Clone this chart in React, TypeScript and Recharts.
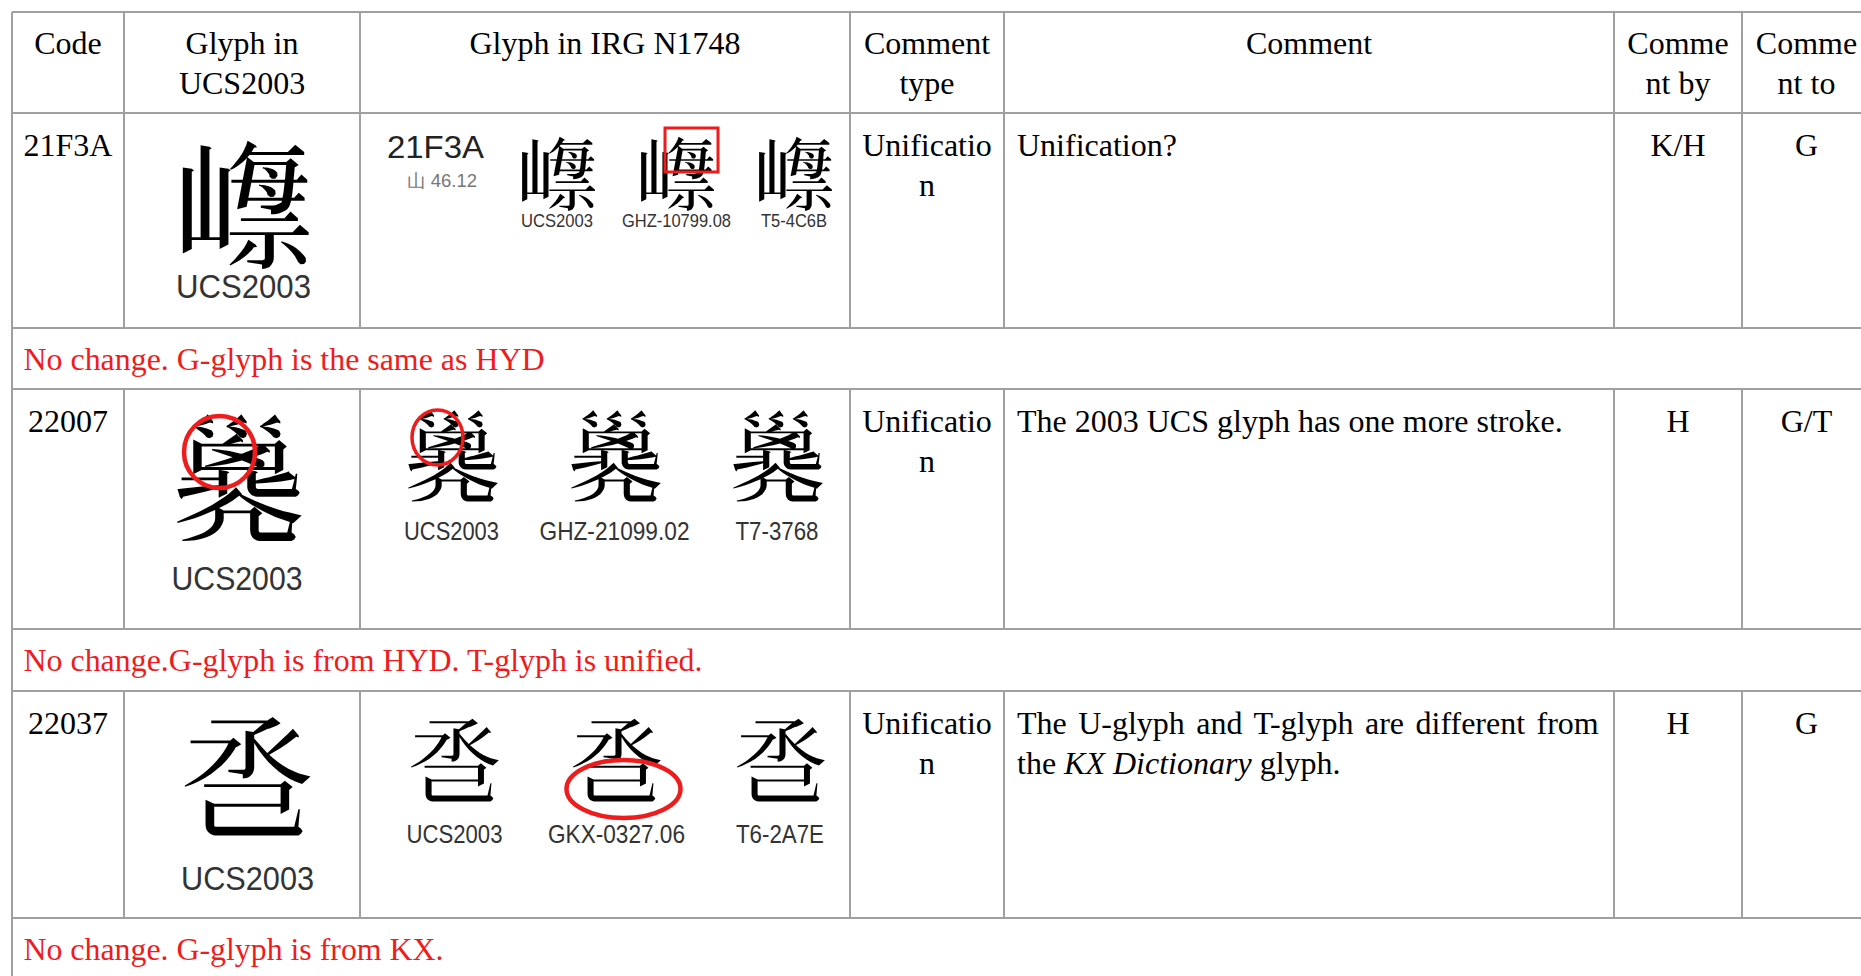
import React from 'react';
import { ScatterChart, Scatter, XAxis, YAxis, ReferenceLine } from 'recharts';

// ---------- values (text content of the table) ----------
const headers: string[][] = [
  ['Code'],
  ['Glyph in', 'UCS2003'],
  ['Glyph in IRG N1748'],
  ['Comment', 'type'],
  ['Comment'],
  ['Comme', 'nt by'],
  ['Comme', 'nt to'],
];
const codes = ['21F3A', '22007', '22037'];
const commentTypes = [['Unificatio', 'n'], ['Unificatio', 'n'], ['Unificatio', 'n']];
type Part = { t: string; i?: boolean };
const comments: Part[][][] = [
  [[{ t: 'Unification?' }]],
  [[{ t: 'The 2003 UCS glyph has one more stroke.' }]],
  [
    [{ t: 'The U-glyph and T-glyph are different from' }],
    [{ t: 'the ' }, { t: 'KX Dictionary', i: true }, { t: ' glyph.' }],
  ],
];
const commentBy = ['K/H', 'H', 'H'];
const commentTo = ['G', 'G/T', 'G'];
const notes = [
  'No change. G-glyph is the same as HYD',
  'No change.G-glyph is from HYD. T-glyph is unified.',
  'No change. G-glyph is from KX.',
];
const ucsGlyphs = ['\u{21F3A}', '\u{22007}', '\u{22037}'];
const ucsLabel = 'UCS2003';
const sourceLabels = [
  ['UCS2003', 'GHZ-10799.08', 'T5-4C6B'],
  ['UCS2003', 'GHZ-21099.02', 'T7-3768'],
  ['UCS2003', 'GKX-0327.06', 'T6-2A7E'],
];
const irgCodeLabel = '21F3A';
const irgRadicalLabel = '山 46.12';

// ---------- layout (positions / sizes / styles) ----------
const W = 1861;
const H = 976;
const COL = [12, 124, 360, 850, 1004, 1614, 1742, 1871];
const HEADER_TOP = 12;
const ROW_TOP = [113, 389, 691];
const ROW_BOTTOM = [328, 629, 918];
const FIRST_BASE = 42;
const LINE_H = 40;
const SERIF = "'Liberation Serif','Times New Roman',serif";
const SANS = "'Liberation Sans',Arial,sans-serif";
const CJK = "'Noto Sans CJK TC','Noto Sans CJK JP','Noto Sans CJK SC','Noto Sans CJK KR',sans-serif";
const GRID = '#a0a0a0';
const RED = '#ee1c1c';
const NOTE_LEN = [521, 679, 420];

const bigGlyph = [
  { cx: 244, cy: 206, fs: 140, lx: 243.5, ly: 298, lw: 135 },
  { cx: 238, cy: 480, fs: 136, lx: 237, ly: 590, lw: 131 },
  { cx: 247, cy: 777, fs: 136, lx: 247.5, ly: 890, lw: 133 },
];
const smallGlyph = [
  { xs: [557, 676.5, 794], cy: 174, fs: 81, ly: 227, lfs: 19, lw: [72, 109, 66] },
  { xs: [451.5, 614.5, 777], cy: 458, fs: 98, ly: 540, lfs: 25, lw: [95, 150, 83] },
  { xs: [454.5, 616.5, 780], cy: 761, fs: 95, ly: 843, lfs: 25, lw: [96, 137, 88] },
];
const marks = [
  { x: 219.5, y: 452, kind: 'ellipse', rx: 35.5, ry: 36, sw: 4.5 },
  { x: 437.5, y: 437.5, kind: 'ellipse', rx: 25.5, ry: 27.5, sw: 3.5 },
  { x: 623.5, y: 789, kind: 'ellipse', rx: 57, ry: 29, sw: 4.5 },
  { x: 691.5, y: 150, kind: 'rect', rx: 26.5, ry: 22, sw: 3 },
];

type TItem = {
  x: number; y: number; text?: string; parts?: Part[]; anchor: string; font: string;
  size: number; color: string; len?: number; ws?: number;
};

const center = (c: number) => (COL[c] + COL[c + 1]) / 2;

const texts: TItem[] = [];
headers.forEach((lines, c) =>
  lines.forEach((t, k) =>
    texts.push({ x: center(c), y: HEADER_TOP + FIRST_BASE + k * LINE_H, text: t, anchor: 'middle', font: SERIF, size: 32, color: '#000' })
  )
);
codes.forEach((t, r) => {
  const base = ROW_TOP[r] + 43;
  texts.push({ x: center(0), y: base, text: t, anchor: 'middle', font: SERIF, size: 32, color: '#000' });
  commentTypes[r].forEach((s, k) =>
    texts.push({ x: center(3), y: base + k * LINE_H, text: s, anchor: 'middle', font: SERIF, size: 32, color: '#000' })
  );
  comments[r].forEach((parts, k) =>
    texts.push({
      x: COL[4] + 13, y: base + k * LINE_H, parts, anchor: 'start', font: SERIF, size: 32, color: '#000',
      ws: comments[r].length > 1 && k === 0 ? 3.45 : undefined,
    })
  );
  texts.push({ x: center(5), y: base, text: commentBy[r], anchor: 'middle', font: SERIF, size: 32, color: '#000' });
  texts.push({ x: center(6), y: base, text: commentTo[r], anchor: 'middle', font: SERIF, size: 32, color: '#000' });
  texts.push({ x: COL[0] + 11.5, y: ROW_BOTTOM[r] + 42, text: notes[r], anchor: 'start', font: SERIF, size: 32, color: RED, len: NOTE_LEN[r] });
});

const glyphs: TItem[] = [];
const labels: TItem[] = [];
ucsGlyphs.forEach((g, r) => {
  const b = bigGlyph[r];
  glyphs.push({ x: b.cx, y: b.cy + 0.38 * b.fs, text: g, anchor: 'middle', font: CJK, size: b.fs, color: '#000' });
  labels.push({ x: b.lx, y: b.ly, text: ucsLabel, anchor: 'middle', font: SANS, size: 34, color: '#333', len: b.lw });
  const s = smallGlyph[r];
  s.xs.forEach((x, k) => {
    glyphs.push({ x, y: s.cy + 0.38 * s.fs, text: g, anchor: 'middle', font: CJK, size: s.fs, color: '#000' });
    labels.push({ x, y: s.ly, text: sourceLabels[r][k], anchor: 'middle', font: SANS, size: s.lfs, color: '#333', len: s.lw[k] });
  });
});
labels.push({ x: 435.5, y: 158, text: irgCodeLabel, anchor: 'middle', font: SANS, size: 32, color: '#222', len: 97 });
labels.push({ x: 442, y: 187, text: irgRadicalLabel, anchor: 'middle', font: SANS, size: 18, color: '#777', len: 70 });

const TextShape = (props: any) => {
  const { cx, cy, payload: p } = props;
  if (cx == null || cy == null) return <g />;
  return (
    <text
      x={cx}
      y={cy}
      textAnchor={p.anchor}
      fontFamily={p.font}
      fontSize={p.size}
      fill={p.color}
      textLength={p.len}
      lengthAdjust={p.len ? 'spacingAndGlyphs' : undefined}
      style={{ wordSpacing: p.ws, whiteSpace: 'pre' }}
    >
      {p.parts
        ? p.parts.map((q: Part, i: number) => (
            <tspan key={i} fontStyle={q.i ? 'italic' : undefined}>{q.t}</tspan>
          ))
        : p.text}
    </text>
  );
};

const MarkShape = (props: any) => {
  const { cx, cy, payload: p } = props;
  if (cx == null || cy == null) return <g />;
  if (p.kind === 'rect')
    return <rect x={cx - p.rx} y={cy - p.ry} width={2 * p.rx} height={2 * p.ry} fill="none" stroke={RED} strokeWidth={p.sw} />;
  return <ellipse cx={cx} cy={cy} rx={p.rx} ry={p.ry} fill="none" stroke={RED} strokeWidth={p.sw} />;
};

const hLines = [HEADER_TOP, ROW_TOP[0], ROW_BOTTOM[0], ROW_TOP[1], ROW_BOTTOM[1], ROW_TOP[2], ROW_BOTTOM[2]];
const vSpans = [
  [HEADER_TOP, ROW_BOTTOM[0]],
  [ROW_TOP[1], ROW_BOTTOM[1]],
  [ROW_TOP[2], ROW_BOTTOM[2]],
];

export default function App() {
  return (
    <div style={{ position: 'absolute', left: 0, top: 0, background: '#fff' }}>
      <ScatterChart width={W} height={H} margin={{ top: 0, right: 0, bottom: 0, left: 0 }}>
        <XAxis type="number" dataKey="x" domain={[0, W]} hide allowDataOverflow />
        <YAxis type="number" dataKey="y" domain={[0, H]} reversed hide allowDataOverflow />
        {hLines.map((y, i) => (
          <ReferenceLine key={'h' + i} segment={[{ x: COL[0], y }, { x: W, y }]} stroke={GRID} strokeWidth={2} ifOverflow="visible" />
        ))}
        <ReferenceLine segment={[{ x: COL[0], y: HEADER_TOP }, { x: COL[0], y: H }]} stroke={GRID} strokeWidth={2} ifOverflow="visible" />
        {vSpans.map(([a, b], j) =>
          COL.slice(1, 7).map((x, i) => (
            <ReferenceLine key={'v' + j + '-' + i} segment={[{ x, y: a }, { x, y: b }]} stroke={GRID} strokeWidth={2} ifOverflow="visible" />
          ))
        )}
        <Scatter data={texts} shape={TextShape} isAnimationActive={false} />
        <Scatter data={glyphs} shape={TextShape} isAnimationActive={false} />
        <Scatter data={labels} shape={TextShape} isAnimationActive={false} />
        <Scatter data={marks} shape={MarkShape} isAnimationActive={false} />
      </ScatterChart>
    </div>
  );
}
